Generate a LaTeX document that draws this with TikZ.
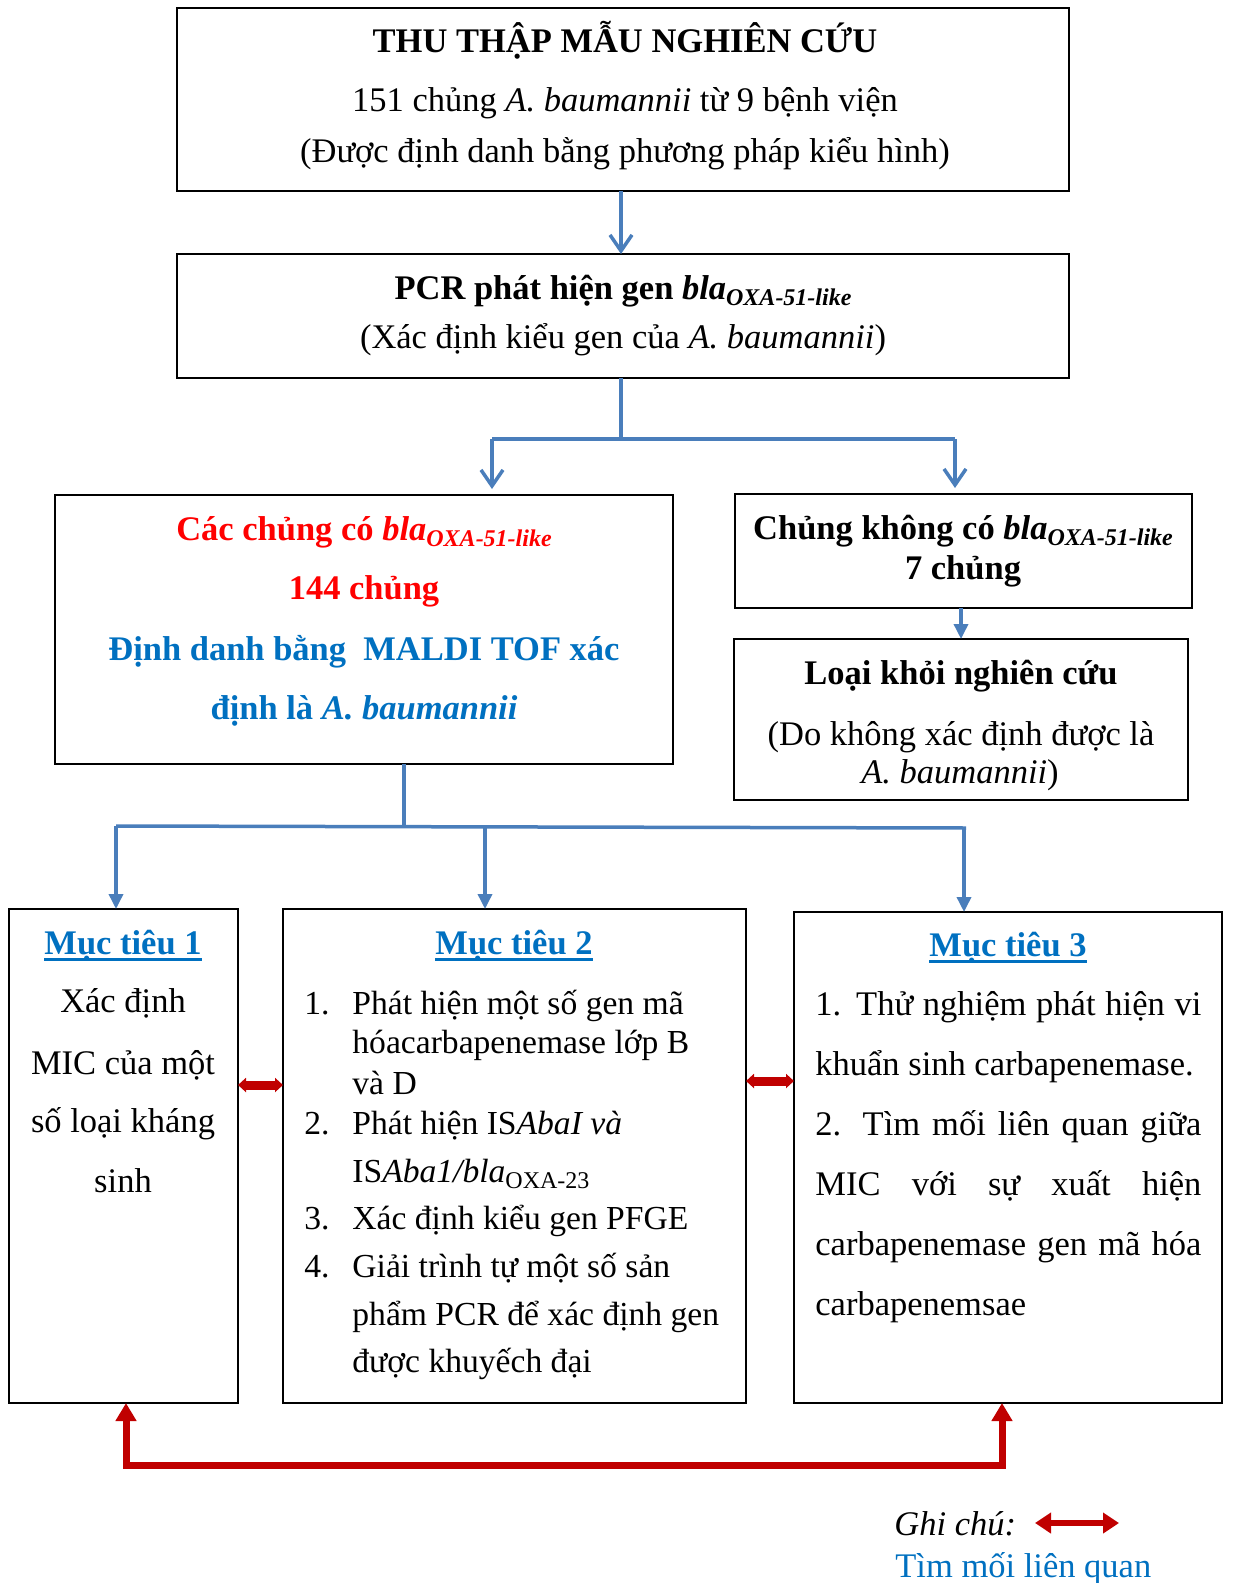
\documentclass[tikz,border=0pt]{standalone}
\usepackage{fontspec}
\setmainfont{Liberation Serif}
\usetikzlibrary{arrows.meta,fit}
\definecolor{cblue}{HTML}{4A7EBB}
\definecolor{tblue}{HTML}{0070C0}
\definecolor{dred}{HTML}{C00000}
\definecolor{bred}{HTML}{FF0000}
\newcommand\fsz{\fontsize{17.25}{20}\selectfont}
\newcommand\fszs{\fontsize{16.8}{20}\selectfont}
\newcommand\subsc[1]{\raisebox{-0.35ex}{\fontsize{12}{12}\selectfont #1}}
\newcommand\myul[1]{\setbox0\hbox{#1}\rlap{\rule[-3pt]{\wd0}{1.5pt}}\box0}
\begin{document}
\begin{tikzpicture}[x=0.5pt,y=-0.5pt,
  box/.style={draw=black, line width=1.2pt, inner sep=0pt, outer sep=0pt},
  txt/.style={font=\fsz, inner sep=0pt, anchor=mid, yshift=-2pt},
  txtl/.style={txt, anchor=mid west},
  txts/.style={txtl, font=\fszs},
  bl/.style={draw=cblue, line width=1.75pt},
  va/.style={bl, -{Straight Barb[length=8pt,width=11pt]}},
  ta/.style={bl, -{Triangle[length=7.5pt,width=7pt]}},
  rd/.style={draw=dred, line width=4.5pt, {Triangle[length=4pt,width=7pt]}-{Triangle[length=4pt,width=7pt]}},
  rb/.style={draw=dred, line width=3.5pt, {Triangle[length=9pt,width=10pt]}-{Triangle[length=9pt,width=10pt]}},
  rl/.style={draw=dred, line width=3pt, {Triangle[length=8pt,width=10pt]}-{Triangle[length=8pt,width=10pt]}},
  ttl/.style={txt, text=tblue, font=\fsz\bfseries}
]
\useasboundingbox (0,0) rectangle (1232,1583);

% boxes
\node[box, fit={(177,8) (1069,191)}] (b1) {};
\node[box, fit={(177,254) (1069,378)}] (b2) {};
\node[box, fit={(55,495) (673,764)}] (b3) {};
\node[box, fit={(735,494) (1192,608)}] (b4) {};
\node[box, fit={(734,639) (1188,800)}] (b5) {};
\node[box, fit={(9,909) (238,1403)}] (b6) {};
\node[box, fit={(283,909) (746,1403)}] (b7) {};
\node[box, fit={(794,912) (1222,1403)}] (b8) {};

% box 1 text
\node[txt, font=\fsz\bfseries] (t1a) at (625,44) {THU THẬP MẪU NGHIÊN CỨU};
\node[txt] (t1b) at (625,103) {151 chủng \textit{A. baumannii} từ 9 bệnh viện};
\node[txt] (t1c) at (625,154) {(Được định danh bằng phương pháp kiểu hình)};

% box 2 text
\node[txt, font=\fsz\bfseries] (t2a) at (623,291) {PCR phát hiện gen \textit{bla}\subsc{\textit{OXA-51-like}}};
\node[txt] (t2b) at (623,340) {(Xác định kiểu gen của \textit{A. baumannii})};

% box 3 text
\node[txt, font=\fsz\bfseries, text=bred] (t3a) at (364,532) {Các chủng có \textit{bla}\subsc{\textit{OXA-51-like}}};
\node[txt, font=\fsz\bfseries, text=bred] (t3b) at (364,591) {144 chủng};
\node[txt, font=\fsz\bfseries, text=tblue] (t3c) at (364,652) {Định danh bằng \ MALDI TOF xác};
\node[txt, font=\fsz\bfseries, text=tblue] (t3d) at (364,711) {định là \textit{A. baumannii}};

% box 4 text
\node[txt, font=\fsz\bfseries] (t4a) at (963,531) {Chủng không có \textit{bla}\subsc{\textit{OXA-51-like}}};
\node[txt, font=\fsz\bfseries] (t4b) at (963,571) {7 chủng};

% box 5 text
\node[txt, font=\fsz\bfseries] (t5a) at (961,676) {Loại khỏi nghiên cứu};
\node[txt] (t5b) at (961,737) {(Do không xác định được là};
\node[txt] (t5c) at (960,775) {\textit{A. baumannii})};

% box 6 text
\node[ttl] (t6t) at (123,946) {\myul{Mục tiêu 1}};
\node[txt] (t6a) at (123,1004) {Xác định};
\node[txt] (t6b) at (123,1066) {MIC của một};
\node[txt] (t6c) at (123,1124) {số loại kháng};
\node[txt] (t6d) at (123,1184) {sinh};

% box 7 text
\node[ttl] (t7t) at (514,946) {\myul{Mục tiêu 2}};
\node[txts] (n71) at (304,1006) {1.};
\node[txts] (t7a) at (352,1006) {Phát hiện một số gen mã};
\node[txts] (t7b) at (352,1045) {hóacarbapenemase lớp B};
\node[txts] (t7c) at (352,1086) {và D};
\node[txts] (n72) at (304,1126) {2.};
\node[txts] (t7d) at (352,1126) {Phát hiện IS\textit{AbaI và}};
\node[txts] (t7e) at (352,1174) {IS\textit{Aba1/bla}\subsc{OXA-23}};
\node[txts] (n73) at (304,1221) {3.};
\node[txts] (t7f) at (352,1221) {Xác định kiểu gen PFGE};
\node[txts] (n74) at (304,1269) {4.};
\node[txts] (t7g) at (352,1269) {Giải trình tự một số sản};
\node[txts] (t7h) at (352,1317) {phẩm PCR để xác định gen};
\node[txts] (t7i) at (352,1364) {được khuyếch đại};

% box 8 text
\node[ttl] (t8t) at (1008,948) {\myul{Mục tiêu 3}};
\node[txtl] (t8a) at (815,1007) {\makebox[193pt][s]{1. Thử nghiệm phát hiện vi}};
\node[txtl] (t8b) at (815,1067) {khuẩn sinh carbapenemase.};
\node[txtl] (t8c) at (815,1127) {\makebox[193pt][s]{2. Tìm mối liên quan giữa}};
\node[txtl] (t8d) at (815,1187) {\makebox[193pt][s]{MIC với sự xuất hiện}};
\node[txtl] (t8e) at (815,1247) {\makebox[193pt][s]{carbapenemase gen mã hóa}};
\node[txtl] (t8f) at (815,1307) {carbapenemsae};

% legend
\node[txtl] (lg1) at (894,1527) {\textit{Ghi chú:}};
\node[txtl, text=tblue] (lg2) at (895,1569) {Tìm mối liên quan};

% coordinates
\coordinate (s1) at (621,439);
\coordinate (s1l) at (492,439);
\coordinate (s1r) at (955,439);
\coordinate (s2) at (404,827);
\coordinate (s2l) at (116,826);
\coordinate (s2m) at (485,827);
\coordinate (s2r) at (964,828);
\coordinate (s2e) at (966,828);
\coordinate (c45) at (961,620);
\coordinate (r1) at (0,1085);
\coordinate (r2) at (0,1081);
\coordinate (k1) at (126,1465);
\coordinate (k2) at (1002,1465);
\coordinate (la) at (1035,1523);
\coordinate (lb) at (1119,1523);

% blue connectors
\draw[va] (b1.south -| s1) -- (b2.north -| s1);
\draw[bl] (b2.south -| s1) -- (s1);
\draw[bl] (s1l) -- (s1r);
\draw[va, shorten >=3pt] (s1l) -- (b3.north -| s1l);
\draw[va, shorten >=3pt] (s1r) -- (b4.north -| s1r);
\draw[ta] (b4.south -| c45) -- (b5.north -| c45);
\draw[bl] (b3.south -| s2) -- (s2);
\draw[bl] (s2l) -- (s2e);
\draw[ta] (s2l) -- (b6.north -| s2l);
\draw[ta] (s2m) -- (b7.north -| s2m);
\draw[ta] (s2r) -- (b8.north -| s2r);

% red connectors
\draw[rd] (b6.east |- r1) -- (b7.west |- r1);
\draw[rd] (b7.east |- r2) -- (b8.west |- r2);
\draw[rb] (b6.south -| k1) -- (k1) -- (k2) -- (b8.south -| k2);
\draw[rl] (la) -- (lb);
\end{tikzpicture}
\end{document}
